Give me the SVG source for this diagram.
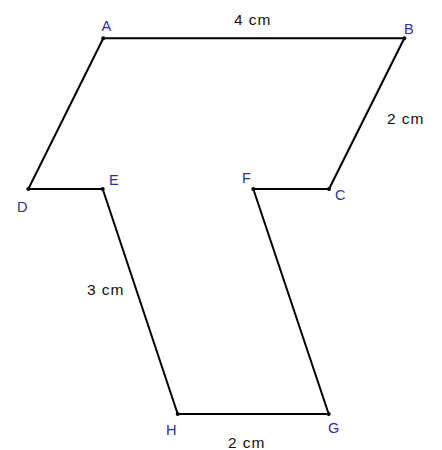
<svg xmlns="http://www.w3.org/2000/svg" width="442" height="450" viewBox="0 0 442 450">
<style>
.e{stroke:#000;stroke-width:2;fill:none;stroke-linecap:round}
.p{fill:#000}
.l{font-family:"Liberation Sans",Arial,sans-serif;font-size:14.5px;fill:#2e2e9e}
.d{font-family:"Liberation Sans",Arial,sans-serif;font-size:15.5px;fill:#111;letter-spacing:0.9px}
</style>
<rect width="442" height="450" fill="#fff"/>
<g id="connectors">
<line class="e" x1="103.3" y1="38.3" x2="404.3" y2="38.3"/>
<line class="e" x1="404.3" y1="38.3" x2="329" y2="189"/>
<line class="e" x1="329" y1="189" x2="253.3" y2="189"/>
<line class="e" x1="253.3" y1="189" x2="328.7" y2="414"/>
<line class="e" x1="328.7" y1="414" x2="177.7" y2="414"/>
<line class="e" x1="177.7" y1="414" x2="102.7" y2="189"/>
<line class="e" x1="102.7" y1="189" x2="28.3" y2="189"/>
<line class="e" x1="28.3" y1="189" x2="103.3" y2="38.3"/>
</g>
<g id="A"><circle class="p" cx="103.3" cy="38.3" r="2"/><text class="l" x="101.5" y="31">A</text></g>
<g id="B"><circle class="p" cx="404.3" cy="38.3" r="2"/><text class="l" x="404" y="33.5">B</text></g>
<g id="C"><circle class="p" cx="329" cy="189" r="2"/><text class="l" x="335" y="200">C</text></g>
<g id="D"><circle class="p" cx="28.3" cy="189" r="2"/><text class="l" x="17" y="212">D</text></g>
<g id="E"><circle class="p" cx="102.7" cy="189" r="2"/><text class="l" x="109" y="185">E</text></g>
<g id="F"><circle class="p" cx="253.3" cy="189" r="2"/><text class="l" x="242" y="183">F</text></g>
<g id="G"><circle class="p" cx="328.7" cy="414" r="2"/><text class="l" x="328" y="433">G</text></g>
<g id="H"><circle class="p" cx="177.7" cy="414" r="2"/><text class="l" x="166" y="435">H</text></g>
<g id="labels">
<text class="d" x="234" y="25">4 cm</text>
<text class="d" x="387" y="124">2 cm</text>
<text class="d" x="87" y="295">3 cm</text>
<text class="d" x="228" y="448">2 cm</text>
</g>
</svg>
